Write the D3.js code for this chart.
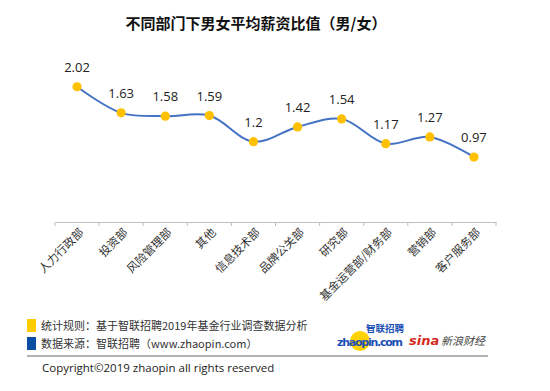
<!DOCTYPE html>
<html><head><meta charset="utf-8">
<script src="https://cdn.jsdelivr.net/npm/d3@7"></script>
<style>body{margin:0;background:#fff}svg{display:block}</style>
</head><body>
<script>
const categories = ["人力行政部","投资部","风险管理部","其他","信息技术部","品牌公关部","研究部","基金运营部/财务部","营销部","客户服务部"];
const ratios = [2.02,1.63,1.58,1.59,1.2,1.42,1.54,1.17,1.27,0.97];
const titleText = "不同部门下男女平均薪资比值（男/女）";
const noteLines = ["统计规则：基于智联招聘2019年基金行业调查数据分析","数据来源：智联招聘（www.zhaopin.com）"];
const noteColors = ["#FFCC00","#0A4DA2"];
const copyrightText = "Copyright©2019 zhaopin all rights reserved";

const W=550,H=391;
const svg=d3.select("body").append("svg").attr("width",W).attr("height",H);
const font="'Noto Sans CJK SC','Noto Sans',sans-serif";

svg.append("text").attr("x",256).attr("y",29).attr("text-anchor","middle")
  .attr("font-family",font).attr("font-weight","bold").attr("font-size",15).attr("fill","#111").text(titleText);

const x=d3.scaleBand().domain(categories).range([55,496]);
const y=d3.scaleLinear().domain([0,2.5]).range([222,54.6]);

const axis=svg.append("g").attr("transform","translate(0,222)")
  .call(d3.axisBottom(x).tickSizeInner(0).tickSizeOuter(0).tickFormat(""));
axis.select(".domain").attr("stroke","#bfbfbf");
const bounds=categories.map(c=>x(c)).concat([x.range()[1]]);
svg.append("g").selectAll("line").data(bounds).join("line")
  .attr("x1",d=>d).attr("x2",d=>d).attr("y1",222).attr("y2",226).attr("stroke","#bfbfbf");

svg.append("g").selectAll("text").data(categories).join("text")
  .attr("transform",d=>`translate(${x(d)+x.bandwidth()/2+5},231) rotate(-45)`)
  .attr("text-anchor","end").attr("dominant-baseline","middle")
  .attr("font-family",font).attr("font-size",11.5).attr("fill","#333").text(d=>d);

const cx=d=>x(d)+x.bandwidth()/2;
const line=d3.line().x((d,i)=>cx(categories[i])).y(d=>y(d)).curve(d3.curveCatmullRom.alpha(0.5));
svg.append("path").datum(ratios).attr("d",line).attr("fill","none").attr("stroke","#4472C4").attr("stroke-width",2);

svg.append("g").selectAll("circle").data(ratios).join("circle")
  .attr("cx",(d,i)=>cx(categories[i])).attr("cy",d=>y(d)).attr("r",4.6).attr("fill","#FFC000");

svg.append("g").selectAll("text").data(ratios).join("text")
  .attr("x",(d,i)=>cx(categories[i])).attr("y",d=>y(d)-15)
  .attr("text-anchor","middle").attr("font-family","'Open Sans','Noto Sans',sans-serif").attr("font-size",13).attr("fill","#222")
  .text(d=>String(d));

noteLines.forEach((t,i)=>{
  const yy=[319,337][i];
  svg.append("rect").attr("x",27).attr("y",yy).attr("width",9).attr("height",13).attr("fill",noteColors[i]);
  svg.append("text").attr("x",41).attr("y",yy+11).attr("font-family",font).attr("font-size",11).attr("fill","#333").text(t);
});
svg.append("line").attr("x1",27).attr("x2",488).attr("y1",356).attr("y2",356).attr("stroke","#666").attr("stroke-width",1);
svg.append("text").attr("x",42).attr("y",372).attr("font-family","'Open Sans','Noto Sans',sans-serif").attr("font-size",11.5).attr("fill","#222").text(copyrightText);

const lg=svg.append("g");
lg.append("circle").attr("cx",360).attr("cy",341).attr("r",10).attr("fill","#FFD200");
lg.append("text").attr("x",366).attr("y",332).attr("font-family",font).attr("font-weight","bold").attr("font-size",9.5).attr("fill","#1a4fb5").text("智联招聘");
lg.append("text").attr("x",337).attr("y",346).attr("font-family","'DejaVu Sans',sans-serif").attr("font-weight","bold").attr("font-size",11).attr("fill","#1a4fb5").attr("textLength",66).text("zhaopin.com");
lg.append("text").attr("x",409).attr("y",345).attr("font-family","'DejaVu Sans',sans-serif").attr("font-weight","bold").attr("font-style","italic").attr("font-size",13).attr("fill","#d52b1e").text("sina");
lg.append("text").attr("x",441).attr("y",345).attr("font-family",font).attr("font-size",11).attr("font-style","italic").attr("fill","#444").text("新浪财经");
</script>
</body></html>
